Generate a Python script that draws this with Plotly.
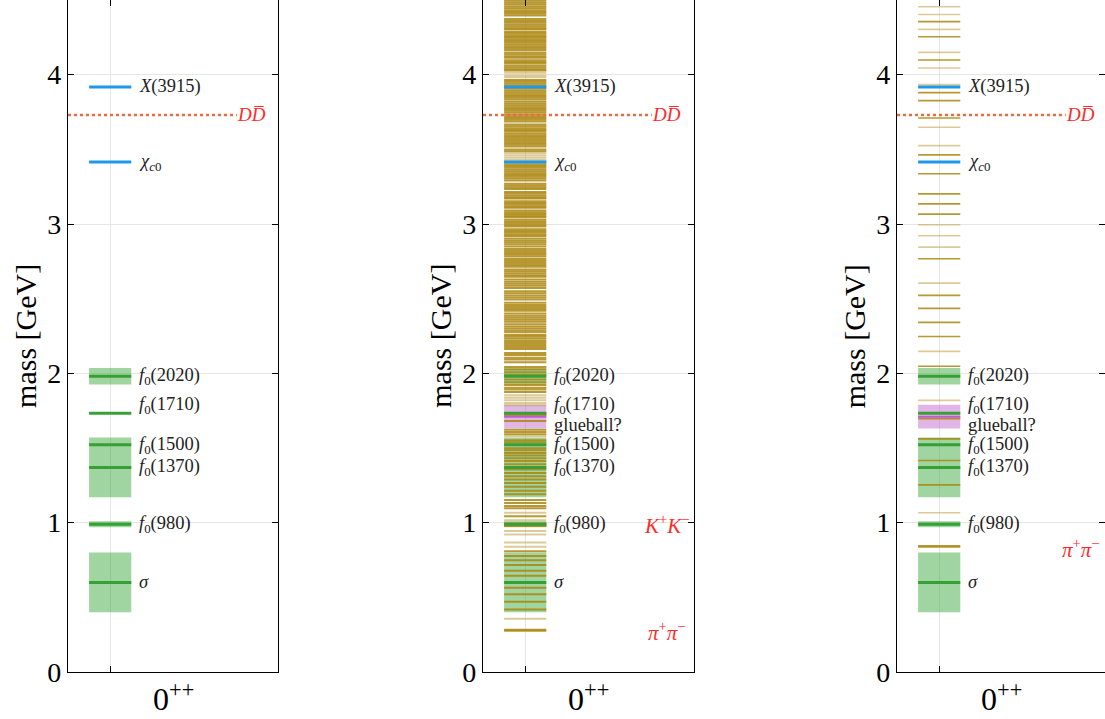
import plotly.graph_objects as go

# ---------------- data ----------------
# PDG scalar resonances (same in every panel)
res_labels = ["<i>σ</i>", "<i>f</i><sub>0</sub>(980)", "<i>f</i><sub>0</sub>(1370)",
              "<i>f</i><sub>0</sub>(1500)", "<i>f</i><sub>0</sub>(1710)", "<i>f</i><sub>0</sub>(2020)"]
res_mass = [0.60, 0.99, 1.37, 1.522, 1.733, 1.98]
res_halfwidth = [0.20, 0.02, 0.20, 0.025, 0.0, 0.055]
res_label_y = [0.60, 0.99, 1.37, 1.52, 1.785, 1.98]

charm_labels = ["<i>χ</i><sub><i>c</i>0</sub>", "<i>X</i>(3915)"]
charm_mass = [3.415, 3.918]

glueball_mass = 1.71
glueball_halfwidth = 0.08
glueball_label_y = 1.655

dd_threshold = 3.73

# two-particle thresholds shown per panel (label, mass)
thresholds = [
    [],
    [("<i>K</i><sup>+</sup><i>K</i><sup>−</sup>", 0.985), ("<i>π</i><sup>+</sup><i>π</i><sup>−</sup>", 0.27)],
    [("<i>π</i><sup>+</sup><i>π</i><sup>−</sup>", 0.83)],
]

# panel 2 energy levels
levels2_dark = [
    4.495, 4.482, 4.470, 4.457, 4.445, 4.432, 4.420, 4.408, 4.396,
    4.372, 4.360, 4.347, 4.335, 4.322, 4.310, 4.302,
    4.286, 4.274, 4.262, 4.252,
    4.238, 4.226, 4.214, 4.202, 4.190, 4.178, 4.166,
    4.148, 4.136, 4.124, 4.113,
    4.097, 4.085, 4.074,
    4.060, 4.048, 4.036, 4.028,
    3.965, 3.953, 3.941, 3.929, 3.917, 3.905, 3.893, 3.881, 3.869, 3.857, 3.845, 3.834,
    3.818, 3.806, 3.794, 3.782, 3.770, 3.758, 3.746, 3.734, 3.722, 3.710, 3.698, 3.686,
    3.666, 3.654, 3.642, 3.630, 3.620,
    3.606, 3.594, 3.582, 3.570,
    3.555, 3.543, 3.531, 3.519,
    3.499, 3.487, 3.415, 3.400, 3.388, 3.376, 3.364,
    3.352, 3.340, 3.328, 3.316, 3.304, 3.292,
    3.270, 3.258, 3.246, 3.234,
    3.214, 3.202, 3.190, 3.178, 3.170,
    3.153, 3.141, 3.129, 3.117, 3.108,
    3.091, 3.079, 3.067, 3.055, 3.047,
    3.030, 3.018, 3.006, 2.994, 2.983,
    2.965, 2.953, 2.941, 2.929, 2.920,
    2.903, 2.890, 2.877, 2.864, 2.850,
    2.832, 2.819, 2.806, 2.794, 2.783,
    2.765, 2.752, 2.739, 2.726, 2.714,
    2.696, 2.683, 2.670, 2.657, 2.646,
    2.628, 2.614, 2.600, 2.586, 2.572,
    2.550, 2.536, 2.522, 2.508, 2.494,
    2.472, 2.458, 2.444, 2.430, 2.419,
    2.400, 2.386, 2.372, 2.358, 2.346,
    2.328, 2.314, 2.300, 2.287, 2.275,
    2.257, 2.245, 2.232,
    2.216, 2.203, 2.190, 2.176, 2.163, 2.136, 2.122, 2.105, 2.092, 2.074,
    2.042, 2.025, 2.007, 1.989, 1.958, 1.940, 1.922, 1.904, 1.891, 1.875,
    1.734, 1.721, 1.681, 1.623, 1.607, 1.592,
    1.552, 1.538, 1.498, 1.485, 1.467, 1.449, 1.431, 1.413, 1.391,
    1.356, 1.333, 1.311, 1.289, 1.266, 1.240, 1.213, 1.191,
    1.151, 1.132, 1.112, 1.097, 1.043, 0.995, 0.985, 0.977,
    0.809, 0.776, 0.749, 0.716, 0.678, 0.644, 0.564, 0.520, 0.470, 0.419,
    0.283, 0.276,
]
levels2_light = [
    4.244, 4.012, 3.995, 3.982, 3.473, 3.458, 3.443, 3.428,
    1.853, 1.837, 1.819, 1.801, 1.786, 1.579,
    1.066, 1.017, 0.945, 0.921, 0.868, 0.838, 0.357,
]

# panel 3 energy levels
levels3_dark = [
    4.355, 4.254, 4.098, 3.880, 3.826, 3.710, 3.463, 3.336, 3.202, 3.135, 3.066,
    2.767, 2.522, 2.435, 2.341, 2.247, 2.047, 1.697, 1.561, 1.416, 1.253, 0.845, 0.838,
]
levels3_light = [
    4.455, 4.403, 4.303, 4.149, 4.045, 3.933, 3.648, 3.525, 2.995, 2.921, 2.845,
    2.604, 2.147, 1.819, 1.066,
]

panel_levels = [([], []), (levels2_dark, levels2_light), (levels3_dark, levels3_light)]
panel_glueball = [False, True, True]

channel_title = "0<sup>++</sup>"

# ---------------- styling ----------------
W, H = 1105, 719
domains_px = [(68, 278), (483, 694), (897, 1105)]
FONT = "Liberation Serif"
GREEN = "#35a035"
GREEN_BAND = "rgba(44,160,44,0.45)"
BLUE = "#1f98e8"
GOLD_DARK = "rgba(170,134,14,0.85)"
GOLD_LIGHT = "rgba(190,160,70,0.55)"
PINK_BAND = "rgba(196,110,208,0.5)"
MAGENTA = "#c25ccc"
DD_COLOR = "#ef6a40"
RED = "#ff2a2a"
LABEL_SIZE = 18.5

X0, X1 = 0.5, 1.5
LABEL_X = 1.65
THR_X = 4.35

fig = go.Figure()
annotations = []


def seg_xy(values):
    xs, ys = [], []
    for v in values:
        xs += [X0, X1, None]
        ys += [v, v, None]
    return xs, ys


def band_xy(centers, halfwidths):
    xs, ys = [], []
    for c, hw in zip(centers, halfwidths):
        if hw <= 0:
            continue
        xs += [X0, X1, X1, X0, X0, None]
        ys += [c - hw, c - hw, c + hw, c + hw, c - hw, None]
    return xs, ys


for i in range(3):
    n = "" if i == 0 else str(i + 1)
    xa, ya = "x" + n, "y" + n
    pw = domains_px[i][1] - domains_px[i][0]
    xmax = 5 * pw / 211

    # resonance bands
    bx, by = band_xy(res_mass, res_halfwidth)
    fig.add_trace(go.Scatter(x=bx, y=by, fill="toself", fillcolor=GREEN_BAND, mode="none",
                             xaxis=xa, yaxis=ya, showlegend=False, hoverinfo="skip"))
    if panel_glueball[i]:
        gx, gy = band_xy([glueball_mass], [glueball_halfwidth])
        fig.add_trace(go.Scatter(x=gx, y=gy, fill="toself", fillcolor=PINK_BAND, mode="none",
                                 xaxis=xa, yaxis=ya, showlegend=False, hoverinfo="skip"))

    dark, light = panel_levels[i]
    lw = 2.0 if i == 1 else 1.6
    if light:
        lx, ly = seg_xy(light)
        fig.add_trace(go.Scatter(x=lx, y=ly, mode="lines", line=dict(color=GOLD_LIGHT, width=lw),
                                 xaxis=xa, yaxis=ya, showlegend=False, hoverinfo="skip"))
    if dark:
        dx, dy = seg_xy(dark)
        fig.add_trace(go.Scatter(x=dx, y=dy, mode="lines", line=dict(color=GOLD_DARK, width=lw),
                                 xaxis=xa, yaxis=ya, showlegend=False, hoverinfo="skip"))

    if panel_glueball[i]:
        mx, my = seg_xy([glueball_mass])
        fig.add_trace(go.Scatter(x=mx, y=my, mode="lines", line=dict(color=MAGENTA, width=2),
                                 xaxis=xa, yaxis=ya, showlegend=False, hoverinfo="skip"))

    rx, ry = seg_xy(res_mass)
    fig.add_trace(go.Scatter(x=rx, y=ry, mode="lines", line=dict(color=GREEN, width=3),
                             xaxis=xa, yaxis=ya, showlegend=False, hoverinfo="skip"))
    cx, cy = seg_xy(charm_mass)
    fig.add_trace(go.Scatter(x=cx, y=cy, mode="lines", line=dict(color=BLUE, width=3),
                             xaxis=xa, yaxis=ya, showlegend=False, hoverinfo="skip"))

    # DD threshold
    fig.add_trace(go.Scatter(x=[0, 4.0], y=[dd_threshold, dd_threshold], mode="lines",
                             line=dict(color=DD_COLOR, width=2.5, dash="dot"),
                             xaxis=xa, yaxis=ya, showlegend=False, hoverinfo="skip"))

    # labels
    for lab, yv in zip(res_labels, res_label_y):
        annotations.append(dict(x=LABEL_X, y=yv, xref=xa, yref=ya, text=lab, showarrow=False,
                                xanchor="left", yanchor="middle", borderpad=0,
                                font=dict(family=FONT, size=LABEL_SIZE, color="#222")))
    for lab, yv in zip(charm_labels, charm_mass):
        annotations.append(dict(x=LABEL_X, y=yv, xref=xa, yref=ya, text=lab, showarrow=False,
                                xanchor="left", yanchor="middle", borderpad=0,
                                font=dict(family=FONT, size=LABEL_SIZE, color="#222")))
    if panel_glueball[i]:
        annotations.append(dict(x=LABEL_X, y=glueball_label_y, xref=xa, yref=ya, text="glueball?",
                                showarrow=False, xanchor="left", yanchor="middle", borderpad=0,
                                font=dict(family=FONT, size=LABEL_SIZE, color="#222")))
    annotations.append(dict(x=THR_X, y=dd_threshold, xref=xa, yref=ya,
                            text="<i>D</i><i>D̅</i>", showarrow=False, xanchor="center",
                            yanchor="middle", font=dict(family=FONT, size=19, color=RED)))
    for lab, yv in thresholds[i]:
        annotations.append(dict(x=THR_X, y=yv, xref=xa, yref=ya, text=lab, showarrow=False,
                                xanchor="center", yanchor="middle",
                                font=dict(family=FONT, size=21, color=RED)))
    # y title
    annotations.append(dict(x=-0.205, y=0.5, xref=xa + " domain", yref="paper",
                            text="mass [GeV]", textangle=-90, showarrow=False,
                            xanchor="center", yanchor="middle",
                            font=dict(family=FONT, size=30, color="black")))
    # x title (channel) centred under the panel
    annotations.append(dict(x=0.5, y=0, xref=xa + " domain", yref="paper", yshift=-25,
                            text=channel_title, showarrow=False,
                            xanchor="center", yanchor="middle",
                            font=dict(family=FONT, size=32, color="black")))

    axis_common = dict(showline=True, linecolor="black", linewidth=1.2, mirror="allticks",
                       ticks="inside", ticklen=6, tickcolor="black", showgrid=True,
                       gridcolor="#e6e6e6", gridwidth=1, zeroline=False)
    fig.update_layout(**{
        "xaxis" + n: dict(domain=[domains_px[i][0] / W, domains_px[i][1] / W],
                          range=[0, xmax], tickvals=[1], ticktext=[""],
                          anchor=ya, fixedrange=True, **axis_common),
        "yaxis" + n: dict(domain=[0, 1], range=[0, 4.5], tickvals=[0, 1, 2, 3, 4],
                          tickfont=dict(family=FONT, size=28, color="black"),
                          anchor=xa, fixedrange=True, **axis_common),
    })

fig.update_layout(width=W, height=H, margin=dict(l=0, r=0, t=0, b=47),
                  paper_bgcolor="white", plot_bgcolor="white",
                  annotations=annotations, showlegend=False)

fig.write_html("out.html", config={"displayModeBar": False},
               post_script="document.body.style.margin='0';document.body.style.overflow='hidden';")
